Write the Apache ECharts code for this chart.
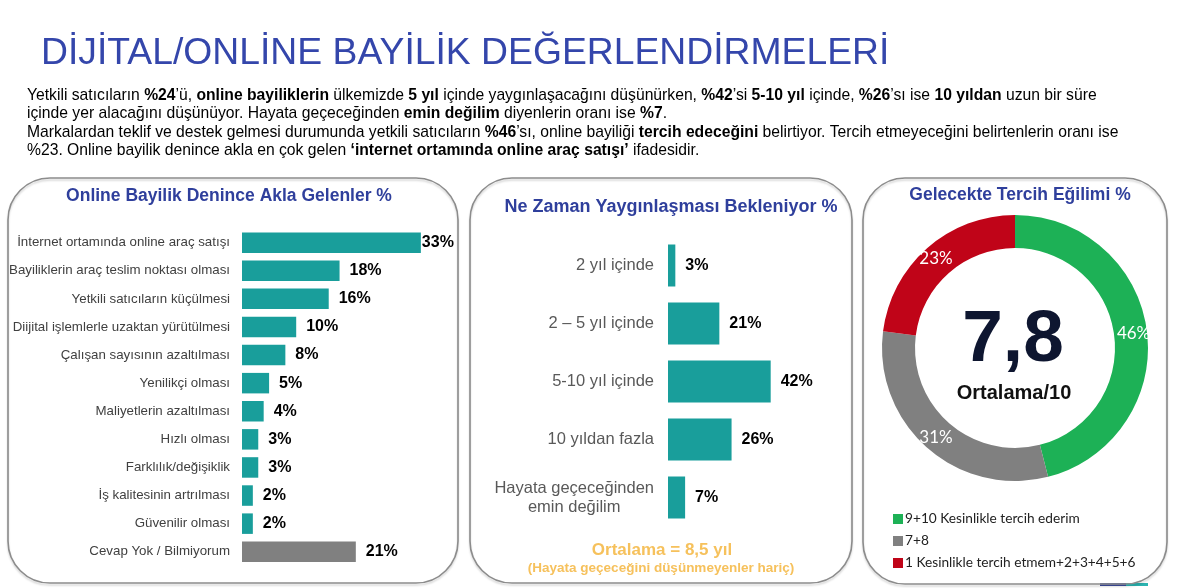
<!DOCTYPE html>
<html>
<head>
<meta charset="utf-8">
<script src="https://cdn.jsdelivr.net/npm/echarts@6/dist/echarts.min.js"></script>
<style>
html,body{margin:0;padding:0;background:#fff;}
#c{width:1178px;height:588px;}
</style>
</head>
<body>
<div id="c"></div>
<script>
const pageTitle = 'DİJİTAL/ONLİNE BAYİLİK DEĞERLENDİRMELERİ';
const introLines = [
  'Yetkili satıcıların {b|%24}’ü, {b|online bayiliklerin} ülkemizde {b|5 yıl} içinde yaygınlaşacağını düşünürken, {b|%42}’si {b|5-10 yıl} içinde, {b|%26}’sı ise {b|10 yıldan} uzun bir süre',
  'içinde yer alacağını düşünüyor. Hayata geçeceğinden {b|emin değilim} diyenlerin oranı ise {b|%7}.',
  'Markalardan teklif ve destek gelmesi durumunda yetkili satıcıların {b|%46}’sı, online bayiliği {b|tercih edeceğini} belirtiyor. Tercih etmeyeceğini belirtenlerin oranı ise',
  '%23. Online bayilik denince akla en çok gelen {b|‘internet ortamında online araç satışı’} ifadesidir.'
];
const panelTitles = ['Online Bayilik Denince Akla Gelenler %', 'Ne Zaman Yaygınlaşması Bekleniyor %', 'Gelecekte Tercih Eğilimi %'];

const mindCategories = ['İnternet ortamında online araç satışı','Bayiliklerin araç teslim noktası olması','Yetkili satıcıların küçülmesi','Diijital işlemlerle uzaktan yürütülmesi','Çalışan sayısının azaltılması','Yenilikçi olması','Maliyetlerin azaltılması','Hızlı olması','Farklılık/değişiklik','İş kalitesinin artrılması','Güvenilir olması','Cevap Yok / Bilmiyorum'];
const mindValues = [33,18,16,10,8,5,4,3,3,2,2,21];

const whenCategories = ['2 yıl içinde','2 – 5 yıl içinde','5-10 yıl içinde','10 yıldan fazla','Hayata geçeceğinden\nemin değilim'];
const whenValues = [3,21,42,26,7];
const whenNote = ['Ortalama = 8,5 yıl', '(Hayata geçeceğini düşünmeyenler hariç)'];

const prefCategories = ['9+10 Kesinlikle tercih ederim','7+8','1 Kesinlikle tercih etmem+2+3+4+5+6'];
const prefValues = [46,31,23];
const prefAverage = '7,8';
const prefAverageLabel = 'Ortalama/10';

const FONT = '"Liberation Sans", Arial, sans-serif';
const LFONT = 'Lato, "Noto Sans", sans-serif';
const TEAL = '#199e9b', GRAY = '#808080', TITLE_BLUE = '#2f3f9c';
const prefColors = ['#1db156', '#808080', '#c00418'];

const chart = echarts.init(document.getElementById('c'), null, {renderer:'canvas'});

const graphics = [];
graphics.push({type:'text', x:41, y:54, style:{text:pageTitle, fontSize:37.3, fontFamily:FONT, fill:'#3446ab', verticalAlign:'middle'}});
introLines.forEach((ln,i)=>{
  graphics.push({type:'text', x:27, y:95.5 + i*18.4, style:{
    text: ln, fontSize:15.7, fontFamily:FONT, fill:'#000', verticalAlign:'middle',
    rich:{ b:{fontSize:15.7, fontFamily:FONT, fontWeight:'bold', fill:'#000'} }
  }});
});
const panels = [[8,178,450,405],[470,178,382,405],[863,178,304,406]];
panels.forEach(p=>{
  graphics.push({type:'rect', shape:{x:p[0],y:p[1],width:p[2],height:p[3],r:42},
    style:{fill:'none', stroke:'#8c8c8c', lineWidth:1.6, shadowBlur:2, shadowOffsetY:2, shadowColor:'rgba(0,0,0,0.18)'}, z:1});
});
const titlePos = [[229,196],[671,207],[1020,195]];
const titleSize = [17.5, 18, 17.5];
panelTitles.forEach((t,i)=>{
  graphics.push({type:'text', x:titlePos[i][0], y:titlePos[i][1], style:{text:t, fontSize:titleSize[i], fontWeight:'bold', fontFamily:FONT, fill:TITLE_BLUE, align:'center', verticalAlign:'middle'}});
});
graphics.push({type:'text', x:662, y:550, style:{text:whenNote[0], fontSize:17, fontWeight:'bold', fontFamily:FONT, fill:'#f6c15c', align:'center', verticalAlign:'middle'}});
graphics.push({type:'text', x:661, y:568, style:{text:whenNote[1], fontSize:13.5, fontWeight:'bold', fontFamily:FONT, fill:'#f6c15c', align:'center', verticalAlign:'middle'}});
graphics.push({type:'text', x:1013, y:341, style:{text:prefAverage, fontSize:73, fontWeight:'bold', fontFamily:FONT, fill:'#0e1630', align:'center', verticalAlign:'middle'}, z:10});
graphics.push({type:'text', x:1014, y:393, style:{text:prefAverageLabel, fontSize:20, fontWeight:'bold', fontFamily:FONT, fill:'#111', align:'center', verticalAlign:'middle'}, z:10});
graphics.push({type:'rect', shape:{x:1100,y:583,width:26,height:3}, style:{fill:'#3b4a9a'}});
graphics.push({type:'rect', shape:{x:1126,y:583,width:22,height:3}, style:{fill:'#2bb3b0'}});

const option = {
  animation:false,
  graphic: graphics,
  grid:[
    {left:242, top:228.6, width:216.8, height:337.2},
    {left:668, top:236.5, width:122.25, height:290}
  ],
  xAxis:[
    {gridIndex:0, type:'value', min:0, max:40, show:false},
    {gridIndex:1, type:'value', min:0, max:50, show:false}
  ],
  yAxis:[
    {gridIndex:0, type:'category', inverse:true, data:mindCategories,
      axisLine:{show:false}, axisTick:{show:false},
      axisLabel:{margin:12, fontSize:13.3, fontFamily:FONT, color:'#404040'}},
    {gridIndex:1, type:'category', inverse:true, data:whenCategories,
      axisLine:{show:false}, axisTick:{show:false},
      axisLabel:{margin:14, fontSize:16.5, fontFamily:FONT, color:'#595959',
        formatter: v => v.split('\n').map(s=>'{c|'+s+'}').join('\n'),
        rich:{c:{fontSize:16.5, fontFamily:FONT, color:'#595959', align:'center', lineHeight:19}}}}
  ],
  legend:{
    orient:'vertical', left:888, top:507, itemWidth:10, itemHeight:10, itemGap:8,
    icon:'rect', data:prefCategories,
    textStyle:{fontFamily:LFONT, fontSize:13.7, color:'#222', lineHeight:14, padding:[0,0,0,-3]}
  },
  series:[
    {type:'bar', xAxisIndex:0, yAxisIndex:0, barWidth:20.5,
      data: mindValues.map((v,i)=>({value:v,
        itemStyle:{color: i===mindValues.length-1 ? GRAY : TEAL},
        label: i===0 ? {distance:1} : undefined})),
      label:{show:true, position:'right', distance:10, formatter:'{c}%', fontSize:16, fontWeight:'bold', fontFamily:FONT, color:'#000'}},
    {type:'bar', xAxisIndex:1, yAxisIndex:1, barWidth:42,
      data: whenValues, itemStyle:{color:TEAL},
      label:{show:true, position:'right', distance:10, formatter:'{c}%', fontSize:16, fontWeight:'bold', fontFamily:FONT, color:'#000'}},
    {type:'pie', center:[1015,348], radius:[100,133], startAngle:90, clockwise:true,
      avoidLabelOverlap:false, silent:true,
      data: prefCategories.map((n,i)=>({name:n, value:prefValues[i], itemStyle:{color:prefColors[i]}})),
      label:{show:true, position:'inside', formatter:'{c}%', color:'#fff', fontSize:17, fontFamily:LFONT},
      labelLine:{show:false}}
  ]
};
chart.setOption(option);
</script>
</body>
</html>
